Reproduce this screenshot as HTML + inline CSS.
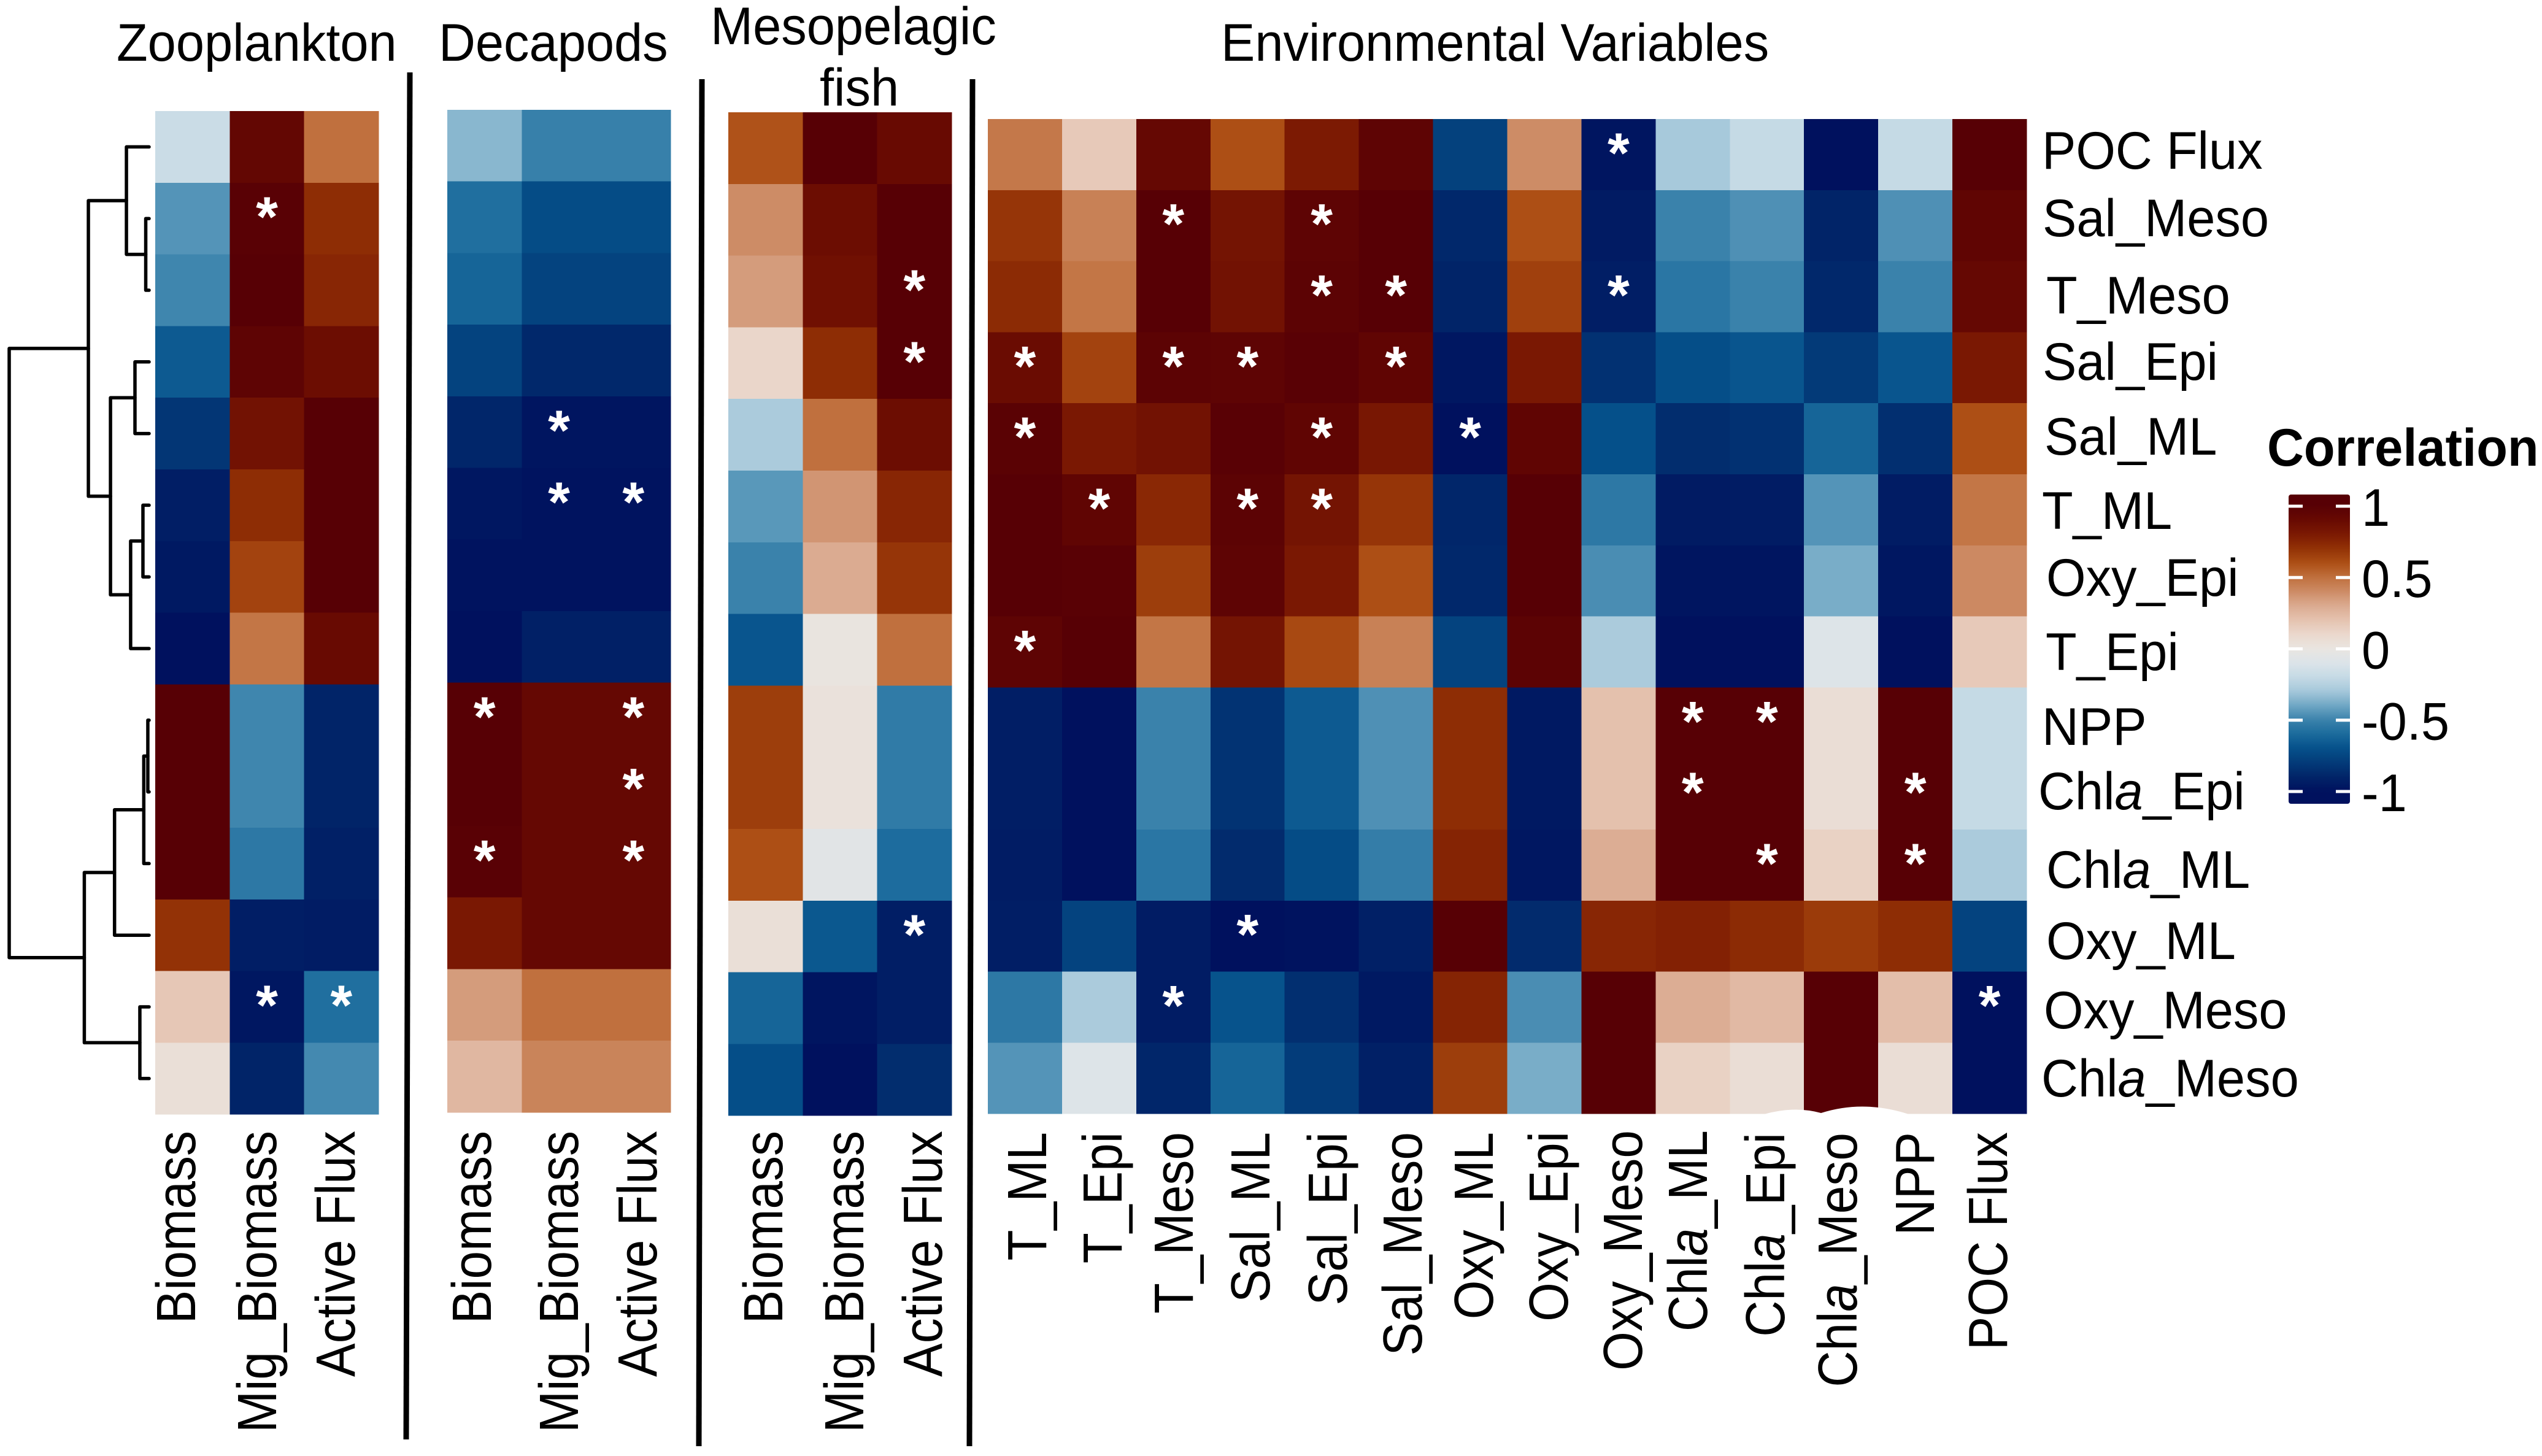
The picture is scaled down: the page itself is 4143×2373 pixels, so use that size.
<!DOCTYPE html>
<html lang="en">
<head>
<meta charset="utf-8">
<title>Correlation heatmap</title>
<style>
html,body{margin:0;padding:0;background:#fff;width:4143px;height:2373px;overflow:hidden}
svg{display:block}
text{font-family:"Liberation Sans",sans-serif;fill:#000;font-size:82px}
</style>
</head>
<body>
<svg id="chart" xmlns="http://www.w3.org/2000/svg" width="4143" height="2373" viewBox="0 0 4143 2373">
  <defs><linearGradient id="legendGradient" x1="0" y1="0" x2="0" y2="1"></linearGradient></defs>
  <rect x="0" y="0" width="4143" height="2373" fill="#fff"/>
  <g id="dendrogram"></g>
  <g id="panels"></g>

  <path d="M2875 1816 Q2925 1802 2968 1814 Q3037 1792 3111 1816 Z" fill="#fff"/>

  <g>
    <text x="190" y="99">Zooplankton</text>
    <text x="715" y="99">Decapods</text>
    <text x="1158" y="72">Mesopelagic</text>
    <text x="1336" y="172">fish</text>
    <text x="1990" y="99">Environmental Variables</text>
  </g>

  <g stroke="#000" stroke-width="9">
    <line x1="668" y1="118" x2="662" y2="2346"/>
    <line x1="1144" y1="129" x2="1139" y2="2357"/>
    <line x1="1585" y1="129" x2="1580" y2="2357"/>
  </g>

  <g>
    <text x="3328" y="275">POC Flux</text>
    <text x="3329" y="385">Sal_Meso</text>
    <text x="3335" y="511">T_Meso</text>
    <text x="3329" y="619">Sal_Epi</text>
    <text x="3332" y="741">Sal_ML</text>
    <text x="3328" y="862">T_ML</text>
    <text x="3335" y="971">Oxy_Epi</text>
    <text x="3334" y="1092">T_Epi</text>
    <text x="3328" y="1214">NPP</text>
    <text x="3322" y="1319">Chl<tspan font-style="italic">a</tspan>_Epi</text>
    <text x="3335" y="1447">Chl<tspan font-style="italic">a</tspan>_ML</text>
    <text x="3335" y="1563">Oxy_ML</text>
    <text x="3331" y="1676">Oxy_Meso</text>
    <text x="3327" y="1787">Chl<tspan font-style="italic">a</tspan>_Meso</text>
  </g>

  <g text-anchor="end">
    <text transform="translate(318,1843) rotate(-90) scale(1,1.1)">Biomass</text>
    <text transform="translate(450,1843) rotate(-90) scale(1,1.1)">Mig_Biomass</text>
    <text transform="translate(578,1843) rotate(-90) scale(1,1.1)">Active Flux</text>
    <text transform="translate(800,1843) rotate(-90) scale(1,1.1)">Biomass</text>
    <text transform="translate(942,1843) rotate(-90) scale(1,1.1)">Mig_Biomass</text>
    <text transform="translate(1070,1843) rotate(-90) scale(1,1.1)">Active Flux</text>
    <text transform="translate(1275,1843) rotate(-90) scale(1,1.1)">Biomass</text>
    <text transform="translate(1407,1843) rotate(-90) scale(1,1.1)">Mig_Biomass</text>
    <text transform="translate(1535,1843) rotate(-90) scale(1,1.1)">Active Flux</text>
    <text transform="translate(1705,1845) rotate(-90) scale(1,1.1)">T_ML</text>
    <text transform="translate(1828,1845) rotate(-90) scale(1,1.1)">T_Epi</text>
    <text transform="translate(1944,1845) rotate(-90) scale(1,1.1)">T_Meso</text>
    <text transform="translate(2069,1845) rotate(-90) scale(1,1.1)">Sal_ML</text>
    <text transform="translate(2195,1845) rotate(-90) scale(1,1.1)">Sal_Epi</text>
    <text transform="translate(2317,1845) rotate(-90) scale(1,1.1)">Sal_Meso</text>
    <text transform="translate(2433,1845) rotate(-90) scale(1,1.1)">Oxy_ML</text>
    <text transform="translate(2555,1844) rotate(-90) scale(1,1.1)">Oxy_Epi</text>
    <text transform="translate(2676,1842) rotate(-90) scale(1,1.1)">Oxy_Meso</text>
    <text transform="translate(2782,1842) rotate(-90) scale(1,1.1)">Chl<tspan font-style="italic">a</tspan>_ML</text>
    <text transform="translate(2908,1846) rotate(-90) scale(1,1.1)">Chl<tspan font-style="italic">a</tspan>_Epi</text>
    <text transform="translate(3026,1846) rotate(-90) scale(1,1.1)">Chl<tspan font-style="italic">a</tspan>_Meso</text>
    <text transform="translate(3152,1845) rotate(-90) scale(1,1.1)">NPP</text>
    <text transform="translate(3271,1845) rotate(-90) scale(1,1.1)">POC Flux</text>
  </g>

  <g id="legend">
    <text x="3695" y="759" font-weight="bold" style="font-weight:bold">Correlation</text>
    <rect x="3730" y="806" width="100" height="504" rx="4" fill="url(#legendGradient)"/>
  </g>
</svg>
<script>
// ---------- chart data ----------
const zooValues = [
  [-0.18, 0.93, 0.50],
  [-0.45, 0.99, 0.72],
  [-0.49, 1.00, 0.75],
  [-0.66, 0.96, 0.88],
  [-0.82, 0.85, 1.00],
  [-0.93, 0.72, 1.00],
  [-0.96, 0.64, 1.00],
  [-1.00, 0.48, 0.90],
  [1.00, -0.49, -0.90],
  [1.00, -0.49, -0.90],
  [1.00, -0.54, -0.92],
  [0.70, -0.93, -0.94],
  [0.18, -0.97, -0.58],
  [0.05, -0.90, -0.48]
];
const decapodValues = [
  [-0.35, -0.51, -0.51],
  [-0.58, -0.72, -0.72],
  [-0.62, -0.76, -0.76],
  [-0.76, -0.88, -0.88],
  [-0.89, -0.98, -0.98],
  [-0.97, -0.99, -0.99],
  [-0.99, -0.99, -0.99],
  [-1.00, -0.92, -0.92],
  [1.00, 0.92, 0.92],
  [1.00, 0.92, 0.92],
  [0.99, 0.92, 0.92],
  [0.81, 0.92, 0.92],
  [0.35, 0.50, 0.50],
  [0.25, 0.43, 0.43]
];
const mesoValues = [
  [0.59, 1.00, 0.90],
  [0.40, 0.88, 1.00],
  [0.35, 0.86, 1.00],
  [0.11, 0.72, 1.00],
  [-0.28, 0.50, 0.88],
  [-0.44, 0.37, 0.75],
  [-0.50, 0.30, 0.69],
  [-0.68, 0.01, 0.50],
  [0.66, 0.03, -0.53],
  [0.66, 0.03, -0.53],
  [0.60, -0.06, -0.59],
  [0.05, -0.67, -0.93],
  [-0.62, -0.98, -0.93],
  [-0.71, -1.00, -0.86]
];
const envValues = [
  [0.47, 0.17, 0.92, 0.60, 0.80, 0.96, -0.77, 0.40, -0.98, -0.29, -0.20, -1.00, -0.20, 1.00],
  [0.69, 0.44, 1.00, 0.84, 0.96, 1.00, -0.88, 0.60, -0.95, -0.50, -0.46, -0.90, -0.46, 0.95],
  [0.73, 0.48, 1.00, 0.85, 0.97, 1.00, -0.90, 0.65, -0.93, -0.55, -0.50, -0.88, -0.50, 0.92],
  [0.89, 0.64, 0.97, 0.96, 0.99, 0.95, -0.97, 0.81, -0.84, -0.71, -0.68, -0.80, -0.68, 0.81],
  [0.98, 0.81, 0.85, 0.99, 0.95, 0.82, -1.00, 0.95, -0.70, -0.86, -0.84, -0.62, -0.85, 0.60],
  [1.00, 0.95, 0.74, 0.97, 0.84, 0.69, -0.89, 1.00, -0.54, -0.95, -0.94, -0.45, -0.94, 0.48],
  [1.00, 0.99, 0.66, 0.96, 0.81, 0.60, -0.88, 1.00, -0.47, -0.98, -0.98, -0.38, -0.97, 0.41],
  [0.96, 1.00, 0.48, 0.84, 0.62, 0.44, -0.76, 0.97, -0.28, -1.00, -1.00, -0.09, -1.00, 0.17],
  [-0.93, -1.00, -0.50, -0.83, -0.66, -0.46, 0.72, -0.96, 0.21, 1.00, 1.00, 0.06, 1.00, -0.20],
  [-0.93, -1.00, -0.50, -0.83, -0.66, -0.46, 0.72, -0.96, 0.21, 1.00, 1.00, 0.06, 1.00, -0.20],
  [-0.94, -1.00, -0.55, -0.87, -0.72, -0.52, 0.76, -0.97, 0.29, 1.00, 1.00, 0.13, 1.00, -0.28],
  [-0.93, -0.76, -0.94, -1.00, -0.99, -0.92, 1.00, -0.87, 0.75, 0.77, 0.73, 0.67, 0.72, -0.76],
  [-0.54, -0.28, -0.94, -0.69, -0.85, -0.96, 0.76, -0.47, 1.00, 0.29, 0.24, 1.00, 0.22, -1.00],
  [-0.45, -0.09, -0.89, -0.62, -0.79, -0.92, 0.66, -0.38, 1.00, 0.13, 0.06, 1.00, 0.06, -1.00]
];
const zooStars = [[1, 1], [12, 1], [12, 2]];
const decapodStars = [[4, 1], [5, 1], [5, 2], [8, 0], [8, 2], [9, 2], [10, 0], [10, 2]];
const mesoStars = [[2, 2], [3, 2], [11, 2]];
const envStars = [[0, 8], [1, 2], [1, 4], [2, 4], [2, 5], [2, 8], [3, 0], [3, 2], [3, 3], [3, 5],
  [4, 0], [4, 4], [4, 6], [5, 1], [5, 3], [5, 4], [7, 0], [8, 9], [8, 10], [9, 9], [9, 12],
  [10, 10], [10, 12], [11, 3], [12, 2], [12, 13]];
const legendTicks = [1, 0.5, 0, -0.5, -1];
const legendTickLabels = ['1', '0.5', '0', '-0.5', '-1'];
// dendrogram: [merge height, childA, childB]; a bare number is a heatmap row index
const dendrogramTree = [1.0,
  [0.434,
    [0.162, 0, [0.024, 1, 2]],
    [0.276, [0.101, 3, 4], [0.132, [0.044, 5, 6], 7]]],
  [0.463,
    [0.247, [0.038, [0.009, 8, 9], 10], 11],
    [0.066, 12, 13]]
];
const colorValues = [-1, -0.9, -0.8, -0.7, -0.6, -0.5, -0.4, -0.3, -0.2, -0.1, 0, 0.1, 0.2, 0.3, 0.4, 0.5, 0.6, 0.7, 0.8, 0.9, 1];
const colorHex = ['#00115e', '#012468', '#033a78', '#05508a', '#1a6a9c', '#3a82ab', '#6ea6c4', '#a4c7da', '#c5dae5', '#dce4e9', '#e9e5e1',
  '#ebd8cd', '#e5c3b0', '#dbab91', '#cd8c66', '#c0703e', '#ad4f15', '#933206', '#7c1a03', '#680a02', '#570005'];

// ---------- layout ----------
const NS = 'http://www.w3.org/2000/svg';
const panelLayout = {
  zoo: {x0: 253, y0: 181, colW: 121.33, rowH: 116.8},
  decapod: {x0: 729, y0: 179, colW: 121.33, rowH: 116.7},
  meso: {x0: 1187, y0: 183, colW: 121.33, rowH: 116.8},
  env: {x0: 1610, y0: 194, colW: 120.93, rowH: 115.8}
};
const starSize = 92;
const starLift = 19;
const starBaselineDrop = 48;

function stretchText(el, x, y) {
  el.setAttribute('transform', 'translate(' + x + ' ' + y + ') scale(1.012,1.05) translate(' + (-x) + ' ' + (-y) + ')');
}
document.querySelectorAll('text[x]').forEach(function (el) {
  stretchText(el, parseFloat(el.getAttribute('x')), parseFloat(el.getAttribute('y')));
});

function colorFor(v) {
  const t = Math.max(-1, Math.min(1, v));
  let i = 0;
  while (i < colorValues.length - 2 && t > colorValues[i + 1]) i++;
  const f = (t - colorValues[i]) / (colorValues[i + 1] - colorValues[i]);
  const a = parseInt(colorHex[i].slice(1), 16);
  const b = parseInt(colorHex[i + 1].slice(1), 16);
  const mix = function (shift) {
    const ca = (a >> shift) & 255;
    const cb = (b >> shift) & 255;
    return Math.round(ca + (cb - ca) * f);
  };
  return 'rgb(' + mix(16) + ',' + mix(8) + ',' + mix(0) + ')';
}
function create(tag, attrs, parent) {
  const el = document.createElementNS(NS, tag);
  Object.keys(attrs).forEach(function (k) { el.setAttribute(k, attrs[k]); });
  parent.appendChild(el);
  return el;
}

// ---------- heatmaps ----------
function drawPanel(key, values, stars) {
  const p = panelLayout[key];
  const xAt = function (c) { return p.x0 + c * p.colW; };
  const yAt = function (r) { return p.y0 + r * p.rowH; };
  const group = create('g', {}, document.getElementById('panels'));
  
  
  values.forEach(function (row, r) {
    row.forEach(function (v, c) {
      const cell = create('rect', {
        x: xAt(c), y: yAt(r),
        width: xAt(c + 1) - xAt(c) + 0.5, height: yAt(r + 1) - yAt(r) + 0.5,
        fill: colorFor(v), 'shape-rendering': 'crispEdges'
      }, group);
      
      
    });
  });
  stars.forEach(function (s) {
    const star = create('text', {
      x: xAt(s[1]) + p.colW / 2,
      y: yAt(s[0]) + p.rowH / 2 - starLift + starBaselineDrop,
      'text-anchor': 'middle',
      style: 'fill:#fff;font-size:' + starSize + 'px;font-weight:bold'
    }, group);
    star.textContent = '*';
    
    
  });
}
drawPanel('zoo', zooValues, zooStars);
drawPanel('decapod', decapodValues, decapodStars);
drawPanel('meso', mesoValues, mesoStars);
drawPanel('env', envValues, envStars);

// ---------- dendrogram ----------
const dendroGroup = document.getElementById('dendrogram');
const dendroX = function (h) { return 243 - h * 228; };
const dendroY = function (row) { return panelLayout.zoo.y0 + (row + 0.5) * panelLayout.zoo.rowH; };
function drawNode(node) {
  if (typeof node === 'number') return {x: dendroX(0), y: dendroY(node)};
  const a = drawNode(node[1]);
  const b = drawNode(node[2]);
  const x = dendroX(node[0]);
  const branch = create('path', {
    d: 'M' + a.x + ' ' + a.y + 'H' + x + 'V' + b.y + 'H' + b.x,
    fill: 'none', stroke: '#000', 'stroke-width': 5.5, 'stroke-linejoin': 'round', 'stroke-linecap': 'round'
  }, dendroGroup);
  
  
  return {x: x, y: (a.y + b.y) / 2};
}
drawNode(dendrogramTree);

// ---------- legend ----------
const gradient = document.getElementById('legendGradient');
const legendGroup = document.getElementById('legend');
const legendY = function (v) { return 1057.5 - v * 232.5; };
for (let i = 0; i <= 60; i++) {
  const y = 806 + i / 60 * 504;
  const value = (1057.5 - y) / 232.5;
  create('stop', {offset: (i / 60 * 100) + '%', 'stop-color': colorFor(value)}, gradient);
}
legendTicks.forEach(function (v, i) {
  const y = legendY(v);
  const left = create('rect', {x: 3730, y: y - 2.5, width: 23, height: 5, fill: '#fff'}, legendGroup);
  
  
  const right = create('rect', {x: 3807, y: y - 2.5, width: 23, height: 5, fill: '#fff'}, legendGroup);
  
  
  const label = create('text', {x: 3849, y: y + 32}, legendGroup);
  label.textContent = legendTickLabels[i];
  stretchText(label, 3849, y + 32);
  
  
});
</script>
</body>
</html>
